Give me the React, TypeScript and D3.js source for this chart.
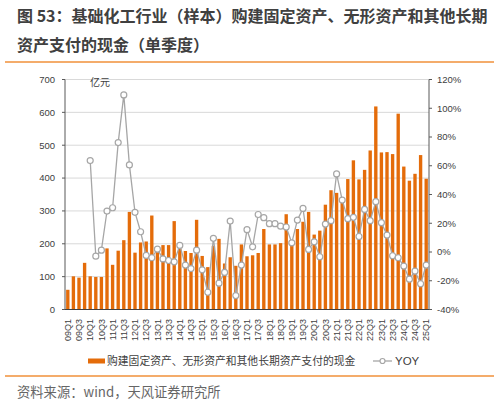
import React from "react";
import * as d3 from "d3";

// 季度类目 09Q1 ... 25Q1
const years = ["09", "10", "11", "12", "13", "14", "15", "16", "17", "18", "19", "20", "21", "22", "23", "24", "25"];
const quarters: string[] = years.flatMap((y) =>
  y === "25" ? [`${y}Q1`] : [`${y}Q1`, `${y}Q2`, `${y}Q3`, `${y}Q4`]
);

// 购建固定资产、无形资产和其他长期资产支付的现金（亿元）
const capex = [
  60, 101, 97, 142,
  101, 99, 99, 186,
  136, 179, 211, 297,
  173, 204, 207, 286,
  176, 196, 196, 269,
  186, 178, 172, 273,
  163, 129, 194, 215,
  140, 159, 133, 198,
  162, 165, 172, 245,
  198, 198, 202, 290,
  196, 245, 267, 297,
  228, 240, 319, 363,
  355, 328, 397, 454,
  396, 425, 484, 618,
  478, 479, 473, 596,
  435, 392, 413, 470,
  398,
];

// YOY (%)
const yoy: (number | null)[] = [
  null, null, null, null,
  63.6, -2.9, 1.3, 28.5,
  30.8, 76.1, 109.3, 60.6,
  27.6, 14.1, -2.4, -4,
  2, -4.8, -5.9, -6.8,
  4.6, -9.1, -11.5, 1.3,
  -12.4, -28, 9.5, -21.7,
  -14.2, 21.5, -30.3, -9.1,
  15.5, 3.6, 26.1, 23.9,
  19.7, 19.7, 18.0, 17.4,
  6.4, 22.2, 30.3, 1.8,
  7.1, -3.3, 19.4, 21.8,
  54.3, 36.1, 23.2, 24.1,
  10.8, 29.6, 21.8, 35,
  20.4, 11.8, -2.6, -4,
  -9.8, -18.9, -13.3, -22.1,
  -9.1,
];

const leftTicks = [0, 100, 200, 300, 400, 500, 600, 700];
const rightTicks = [-40, -20, 0, 20, 40, 60, 80, 100, 120];

const title1 = "图 53：基础化工行业（样本）购建固定资产、无形资产和其他长期";
const title2 = "资产支付的现金（单季度）";
const barName = "购建固定资产、无形资产和其他长期资产支付的现金";
const lineName = "YOY";
const unit = "亿元";
const source = "资料来源：wind，天风证券研究所";

const W = 499;
const H = 404;
const plot = { left: 65, right: 429, top: 79.5, bottom: 309.5 };

const BAR = "#e46c0a";
const LINE = "#a6a6a6";
const ACCENT = "#f0913a";
const TXT = "#404040";
const NUM_FONT = "'Liberation Sans', Arial, 'Noto Sans CJK SC', sans-serif";
const CJK_FONT = "'Noto Sans CJK SC', 'Liberation Sans', sans-serif";

export default function App() {
  const x = d3
    .scaleBand<string>()
    .domain(quarters)
    .range([plot.left, plot.right])
    .paddingInner(0.4)
    .paddingOuter(0.2);
  const y = d3.scaleLinear().domain([0, 700]).range([plot.bottom, plot.top]);
  const y2 = d3.scaleLinear().domain([-40, 120]).range([plot.bottom, plot.top]);

  const pts = quarters
    .map((q, i) => ({ q, v: yoy[i] }))
    .filter((d) => d.v !== null) as { q: string; v: number }[];
  const line = d3
    .line<{ q: string; v: number }>()
    .x((d) => x(d.q)! + x.bandwidth() / 2)
    .y((d) => y2(d.v));

  return (
    <svg
      width={W}
      height={H}
      style={{ position: "absolute", left: 0, top: 0, background: "#fff" }}
    >
      {/* title */}
      <text x={17} y={22} fontFamily={CJK_FONT} fontSize={16} fontWeight="bold" fill={TXT}>
        {title1}
      </text>
      <text x={17} y={51} fontFamily={CJK_FONT} fontSize={16} fontWeight="bold" fill={TXT}>
        {title2}
      </text>
      <line x1={5} x2={494} y1={62} y2={62} stroke={ACCENT} strokeWidth={1.5} />

      {/* grid */}
      {leftTicks.map((t) => (
        <line key={t} x1={plot.left} x2={plot.right} y1={y(t)} y2={y(t)} stroke="#d9d9d9" strokeWidth={1} />
      ))}

      {/* bars */}
      {capex.map((v, i) => (
        <rect
          key={quarters[i]}
          x={x(quarters[i])}
          y={y(v)}
          width={x.bandwidth()}
          height={y(0) - y(v)}
          fill={BAR}
        />
      ))}

      {/* left axis */}
      <line x1={plot.left} x2={plot.left} y1={plot.top} y2={plot.bottom} stroke="#595959" />
      {leftTicks.map((t) => (
        <g key={t}>
          <line x1={plot.left - 3} x2={plot.left} y1={y(t)} y2={y(t)} stroke="#595959" />
          <text x={55} y={y(t)} dy="0.35em" textAnchor="end" fontFamily={NUM_FONT} fontSize={9.5} fill={TXT}>
            {t}
          </text>
        </g>
      ))}
      <text x={90} y={86} fontFamily={CJK_FONT} fontSize={10} fill={TXT}>
        {unit}
      </text>

      {/* right axis */}
      <line x1={plot.right} x2={plot.right} y1={plot.top} y2={plot.bottom} stroke="#595959" />
      {rightTicks.map((t) => (
        <g key={t}>
          <line x1={plot.right} x2={plot.right + 3} y1={y2(t)} y2={y2(t)} stroke="#595959" />
          <text x={437} y={y2(t)} dy="0.35em" fontFamily={NUM_FONT} fontSize={9.5} fill={TXT}>
            {`${t}%`}
          </text>
        </g>
      ))}

      {/* bottom axis */}
      <line x1={plot.left} x2={plot.right} y1={plot.bottom} y2={plot.bottom} stroke="#404040" />
      {quarters.map((q, i) =>
        i % 2 === 0 ? (
          <text
            key={q}
            transform={`translate(${x(q)! + x.bandwidth() / 2},319) rotate(-90)`}
            dy="0.35em"
            textAnchor="end"
            fontFamily={NUM_FONT}
            fontSize={9}
            fill={TXT}
          >
            {q}
          </text>
        ) : null
      )}

      {/* YOY line */}
      <path d={line(pts) ?? ""} fill="none" stroke={LINE} strokeWidth={1.3} />
      {pts.map((d) => (
        <circle
          key={d.q}
          cx={x(d.q)! + x.bandwidth() / 2}
          cy={y2(d.v)}
          r={3}
          fill="#fff"
          stroke={LINE}
          strokeWidth={1.2}
        />
      ))}

      {/* legend */}
      <rect x={88} y={358.5} width={17} height={5} fill={BAR} />
      <text x={107} y={361} dy="0.35em" fontFamily={CJK_FONT} fontSize={10.8} fill={TXT}>
        {barName}
      </text>
      <line x1={373} x2={392} y1={361} y2={361} stroke={LINE} strokeWidth={1.3} />
      <circle cx={382.5} cy={361} r={2.5} fill="#fff" stroke={LINE} strokeWidth={1.2} />
      <text x={395} y={361} dy="0.35em" fontFamily={NUM_FONT} fontSize={11.5} fill={TXT}>
        {lineName}
      </text>

      {/* footer */}
      <line x1={5} x2={494} y1={376} y2={376} stroke={ACCENT} strokeWidth={1.5} />
      <text x={17} y={392} dy="0.35em" fontFamily={CJK_FONT} fontSize={13.3} fill="#666666">
        {source}
      </text>
    </svg>
  );
}
